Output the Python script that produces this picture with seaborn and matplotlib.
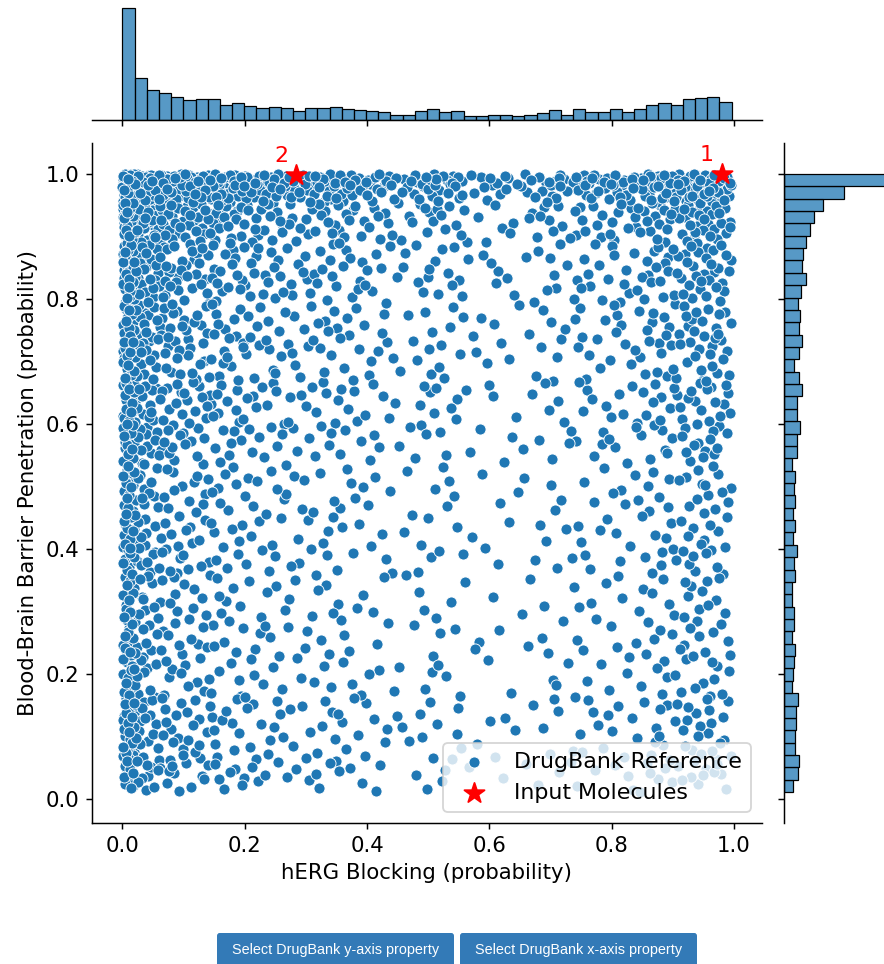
import numpy as np
import pandas as pd
import matplotlib
matplotlib.use("Agg")
import matplotlib.pyplot as plt
from matplotlib.patches import FancyBboxPatch
import seaborn as sns

# Marginal histogram counts (50 bins each)
X_RANGE = (0.0, 0.996)
X_COUNTS = [352, 132, 95, 85, 72, 63, 67, 66, 47, 54,
            45, 38, 42, 37, 29, 37, 37, 42, 33, 30,
            27, 26, 17, 17, 27, 33, 24, 27, 12, 14,
            17, 15, 11, 16, 21, 30, 16, 36, 26, 26,
            33, 26, 36, 47, 52, 47, 66, 69, 71, 57]

Y_RANGE = (0.0107, 1.0)
# listed from the top bin (y ~ 1.0) down to the bottom bin
Y_COUNTS_TOP_DOWN = [314, 168, 108, 85, 73, 61, 53, 51, 61, 48,
                     38, 46, 41, 51, 43, 28, 43, 51, 36, 36,
                     45, 35, 36, 23, 31, 28, 31, 26, 31, 25,
                     36, 28, 31, 21, 23, 28, 28, 23, 32, 28,
                     25, 23, 38, 33, 33, 31, 31, 43, 38, 26]

# Input molecules
INPUT_IDS = ["1", "2"]
INPUT_X = [0.980, 0.284]
INPUT_Y = [1.000, 0.998]

X_LABEL = "hERG Blocking (probability)"
Y_LABEL = "Blood-Brain Barrier Penetration (probability)"
BUTTONS = ["Select DrugBank y-axis property", "Select DrugBank x-axis property"]


def values_from_counts(counts, lo, hi):
    # spread each bin's count over the bin
    edges = np.linspace(lo, hi, len(counts) + 1)
    vals = []
    for n, a, b in zip(counts, edges[:-1], edges[1:]):
        vals.extend(a + (np.arange(n) + 0.5) / n * (b - a))
    return np.array(vals), edges


def vdc(n, base):
    v, denom = 0.0, 1.0
    while n:
        n, r = divmod(n, base)
        denom *= base
        v += r / denom
    return v


xs, x_edges = values_from_counts(X_COUNTS, *X_RANGE)
ys, y_edges = values_from_counts(Y_COUNTS_TOP_DOWN[::-1], *Y_RANGE)
n = len(xs)
# pair the sorted values through a Halton ordering (no joint info is readable)
rank_u = np.argsort(np.argsort([vdc(i, 2) for i in range(1, n + 1)]))
rank_v = np.argsort(np.argsort([vdc(i, 3) for i in range(1, n + 1)]))
ref = pd.DataFrame({"x": xs[rank_u], "y": ys[rank_v]})
inp = pd.DataFrame({"id": INPUT_IDS, "x": INPUT_X, "y": INPUT_Y})

plt.rcParams["font.size"] = 11.5

W, H, DPI = 884, 964, 133
g = sns.JointGrid(height=6)
fig = g.figure
fig.set_size_inches(W / DPI, H / DPI)
fig.set_dpi(DPI)
g.ax_joint.set_position([92 / W, 1 - 823 / H, 670 / W, 680 / H])
g.ax_marg_x.set_position([92 / W, 1 - 120 / H, 670 / W, 118 / H])
g.ax_marg_y.set_position([784 / W, 1 - 823 / H, 118 / W, 680 / H])

ax = g.ax_joint
sns.scatterplot(data=ref, x="x", y="y", ax=ax, label="DrugBank Reference")
ax.scatter(inp["x"], inp["y"], marker="*", color="red", s=130, zorder=3,
           label="Input Molecules")
for _, r in inp.iterrows():
    ax.annotate(r["id"], (r["x"], r["y"]), textcoords="offset points",
                xytext=(-8, 5), ha="center", va="bottom", color="red", fontsize=12)

sns.histplot(x=ref["x"], bins=x_edges, ax=g.ax_marg_x)
sns.histplot(y=ref["y"], bins=y_edges, ax=g.ax_marg_y)

ax.set_xlabel(X_LABEL, fontsize=11.5)
ax.set_ylabel(Y_LABEL, fontsize=11.5)
ax.tick_params(labelsize=11.5)
ax.legend(loc="lower right", fontsize=12)

# notebook widget buttons under the chart
for label, x0, x1 in zip(BUTTONS, [217, 460], [454, 697]):
    fig.patches.append(FancyBboxPatch((x0 / W, 1 - 975 / H), (x1 - x0) / W, 42 / H,
                                      boxstyle="round,pad=0,rounding_size=0.003",
                                      transform=fig.transFigure, facecolor="#337ab7",
                                      edgecolor="none"))
    fig.text((x0 + x1) / 2 / W, 1 - 950 / H, label, ha="center", va="center",
             color="white", fontsize=7.8, family="Liberation Sans")

fig.savefig("out.png", dpi=DPI)
